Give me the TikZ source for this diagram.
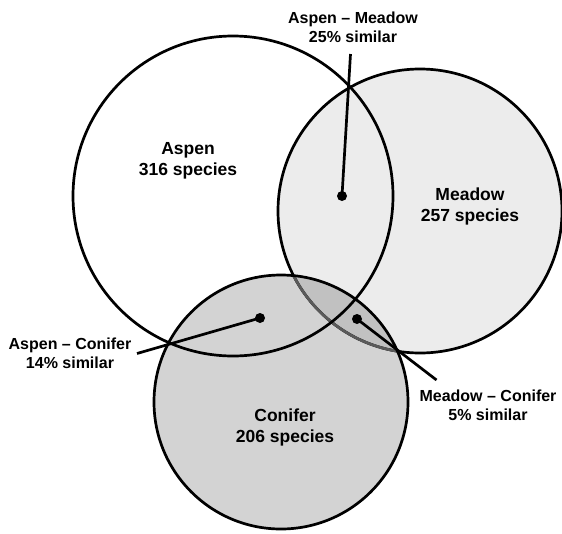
\documentclass[tikz,border=0pt]{standalone}
\usepackage{fontspec}
\setmainfont{Liberation Sans}
\definecolor{meadowfill}{RGB}{236,236,236}
\definecolor{coniferfill}{RGB}{211,211,211}
\definecolor{overlapfill}{RGB}{193,193,193}
\definecolor{hiddenline}{RGB}{90,90,90}
\tikzset{
  ring/.style={line width=2.7pt, draw=black},
  lead/.style={line width=2.7pt, draw=black},
  dotmark/.style={circle, fill=black, inner sep=0pt, minimum size=10pt},
  biglabel/.style={align=center, font=\fontsize{17.5}{21}\selectfont\bfseries, inner sep=0pt},
  simlabel/.style={align=center, font=\fontsize{16}{19}\selectfont\bfseries, inner sep=0pt},
}
\begin{document}
\begin{tikzpicture}[x=1pt, y=-1pt]
\useasboundingbox (0,0) rectangle (562,533);
% circle geometry
\def\aspen{(233,196) circle (160)}
\def\meadow{(420,211) circle (142)}
\def\conifer{(281,402) circle (127)}
% fills
\fill[meadowfill] \meadow;
\fill[coniferfill] \conifer;
\begin{scope}
  \clip \meadow;
  \fill[overlapfill] \conifer;
\end{scope}
% outlines
\draw[ring] \meadow;
\begin{scope}
  \clip \conifer;
  \draw[line width=2.7pt, draw=hiddenline] \meadow;
\end{scope}
\draw[ring] \conifer;
\draw[ring] \aspen;
% labels
\node[biglabel] (aspenlbl) at (188,161) {Aspen\\316 species};
\node[biglabel] (meadowlbl) at (470,206) {Meadow\\257 species};
\node[biglabel] (coniferlbl) at (285,427) {Conifer\\206 species};
\node[simlabel] (amlbl) at (353,27) {Aspen -- Meadow\\25\% similar};
\node[simlabel] (aclbl) at (70,353) {Aspen -- Conifer\\14\% similar};
\node[simlabel] (mclbl) at (488,405) {Meadow -- Conifer\\5\% similar};
% dots
\node[dotmark] (amdot) at (342,196) {};
\node[dotmark] (acdot) at (260,318) {};
\node[dotmark] (mcdot) at (357,319) {};
% leader ends
\coordinate (amend) at (350.5,54);
\coordinate (acend) at (137,353.5);
\coordinate (mcend) at (436.5,380);
\draw[lead] (amdot.center) -- (amend);
\draw[lead] (acdot.center) -- (acend);
\draw[lead] (mcdot.center) -- (mcend);
\end{tikzpicture}
\end{document}
